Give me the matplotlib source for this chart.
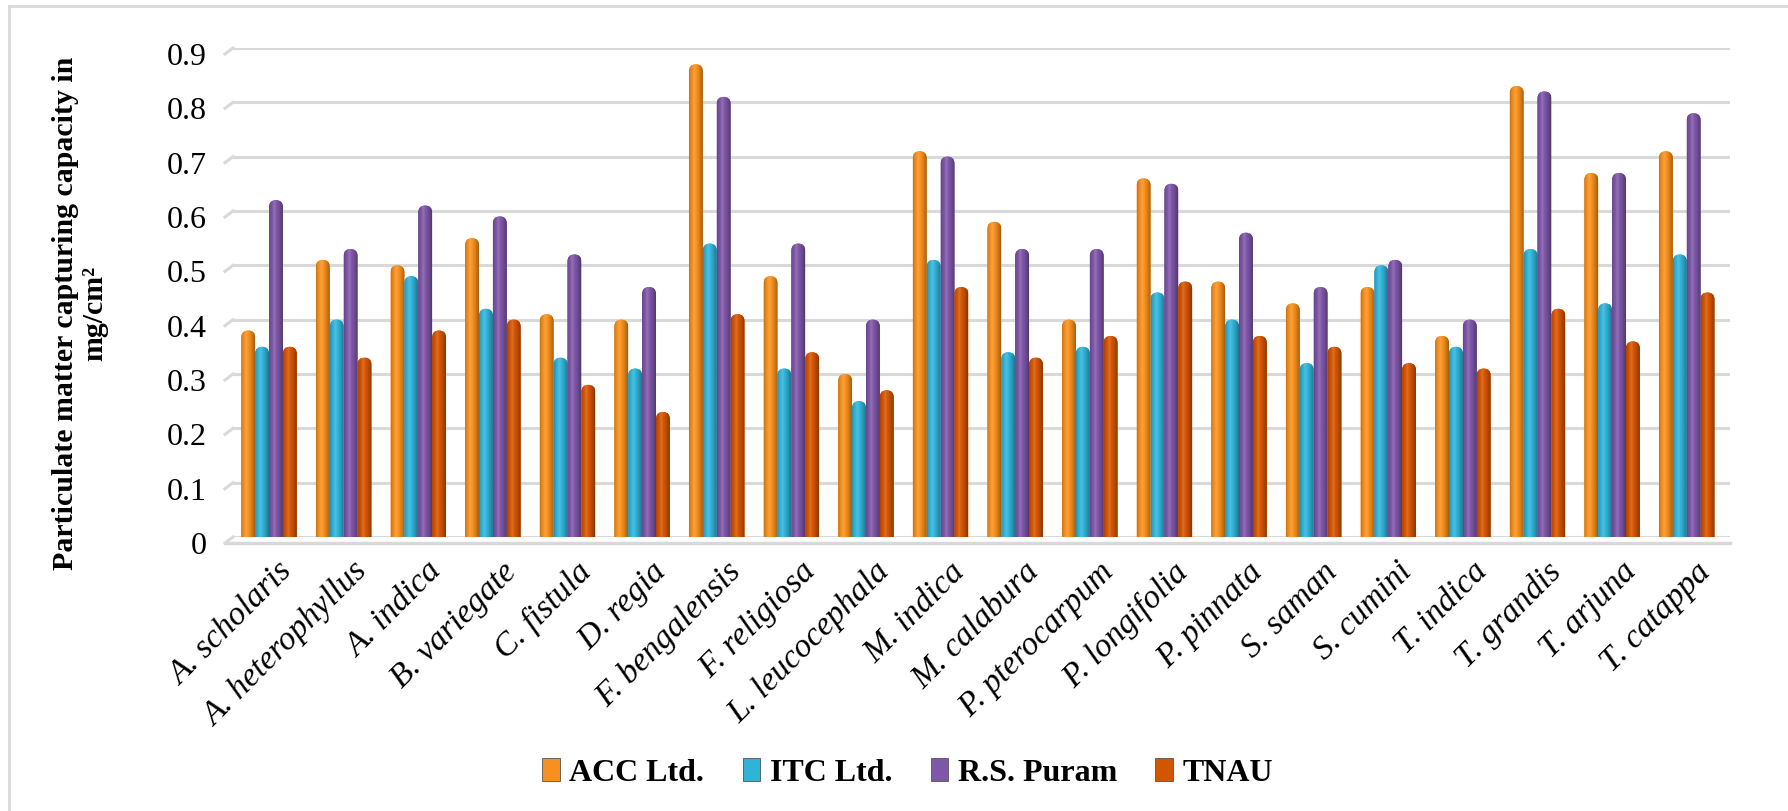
import numpy as np
import matplotlib
matplotlib.use("Agg")
import matplotlib.pyplot as plt
from matplotlib.patches import FancyBboxPatch, Patch
from matplotlib.lines import Line2D
from matplotlib.colors import to_rgb
import matplotlib.transforms as mtransforms

# ---- data -------------------------------------------------------------
species = ["A. scholaris", "A. heterophyllus", "A. indica", "B. variegate",
           "C. fistula", "D. regia", "F. bengalensis", "F. religiosa",
           "L. leucocephala", "M. indica", "M. calabura", "P. pterocarpum",
           "P. longifolia", "P. pinnata", "S. saman", "S. cumini",
           "T. indica", "T. grandis", "T. arjuna", "T. catappa"]

acc_ltd = [0.38, 0.51, 0.50, 0.55, 0.41, 0.40, 0.87, 0.48, 0.30, 0.71,
           0.58, 0.40, 0.66, 0.47, 0.43, 0.46, 0.37, 0.83, 0.67, 0.71]
itc_ltd = [0.35, 0.40, 0.48, 0.42, 0.33, 0.31, 0.54, 0.31, 0.25, 0.51,
           0.34, 0.35, 0.45, 0.40, 0.32, 0.50, 0.35, 0.53, 0.43, 0.52]
rs_puram = [0.62, 0.53, 0.61, 0.59, 0.52, 0.46, 0.81, 0.54, 0.40, 0.70,
            0.53, 0.53, 0.65, 0.56, 0.46, 0.51, 0.40, 0.82, 0.67, 0.78]
tnau = [0.35, 0.33, 0.38, 0.40, 0.28, 0.23, 0.41, 0.34, 0.27, 0.46,
        0.33, 0.37, 0.47, 0.37, 0.35, 0.32, 0.31, 0.42, 0.36, 0.45]

series_names = ["ACC Ltd.", "ITC Ltd.", "R.S. Puram", "TNAU"]
series_values = [acc_ltd, itc_ltd, rs_puram, tnau]
series_colors = ["#F7901E", "#31B3D8", "#7E57A8", "#D45500"]

y_ticks = [0, 0.1, 0.2, 0.3, 0.4, 0.5, 0.6, 0.7, 0.8, 0.9]
y_label = "Particulate matter capturing capacity in\nmg/cm²"

# ---- figure -----------------------------------------------------------
W, H, DPI = 1788, 811, 100
fig = plt.figure(figsize=(W / DPI, H / DPI), dpi=DPI)
serif = ["Liberation Serif", "DejaVu Serif"]

ax_left, ax_right = 233, 1730
ax_top, ax_bottom = 48, 537
ax = fig.add_axes([ax_left / W, 1 - ax_bottom / H,
                   (ax_right - ax_left) / W, (ax_bottom - ax_top) / H])

n = len(species)
x = np.arange(n)
bar_w = 0.186
offsets = (np.arange(4) - 1.5) * bar_w

x_lo, x_hi = -0.483, 19.58
ax.set_xlim(x_lo, x_hi)
ax.set_ylim(0, 0.9)

# pixel scales for rounded caps
px_per_x = (ax_right - ax_left) / (x_hi - x_lo)
px_per_y = (ax_bottom - ax_top) / 0.9
cap_aspect = px_per_x / px_per_y


def shade(color, t):
    """Cylindrical shading profile across a bar."""
    base = np.array(to_rgb(color))
    knots = [0.0, 0.12, 0.38, 0.72, 1.0]
    fac = [0.80, 0.93, 1.10, 0.90, 0.66]
    f = np.interp(t, knots, fac)
    out = np.empty((len(t), 3))
    for i, fi in enumerate(f):
        if fi >= 1:
            out[i] = base + (1 - base) * (fi - 1) * 1.6
        else:
            out[i] = base * fi
    return np.clip(out, 0, 1)


grad_t = np.linspace(0, 1, 40)
for k, (vals, col) in enumerate(zip(series_values, series_colors)):
    bars = ax.bar(x + offsets[k], vals, width=bar_w, color=col, zorder=3)
    grad = shade(col, grad_t)[np.newaxis, :, :]
    for b in bars:
        bx, bw, bh = b.get_x(), b.get_width(), b.get_height()
        b.set_visible(False)
        ry = (bw / 2) * cap_aspect
        body = FancyBboxPatch((bx, -ry), bw, bh + ry,
                              boxstyle=f"round,pad=0,rounding_size={bw / 2}",
                              mutation_aspect=cap_aspect,
                              facecolor=col, edgecolor="none", zorder=3)
        ax.add_patch(body)
        im = ax.imshow(grad, extent=[bx, bx + bw, -ry, bh], aspect="auto",
                       interpolation="bilinear", zorder=4)
        im.set_clip_path(body)

ax.set_xlim(x_lo, x_hi)
ax.set_ylim(0, 0.9)

# gridlines with the short perspective ticks at the left wall
grid_col = "#D9D9D9"
dx_ax = 8 / (ax_right - ax_left)
dy_data = 6 / px_per_y
for yv in y_ticks:
    ax.axhline(yv, color=grid_col, lw=2.2, zorder=1)
    ax.add_line(Line2D([0, -dx_ax], [yv, yv - dy_data], color=grid_col, lw=2.2,
                       transform=ax.get_yaxis_transform(), clip_on=False))
# floor front edge
ax.add_line(Line2D([-dx_ax, 1.0], [-dy_data, -dy_data], color=grid_col, lw=2.5,
                   transform=ax.get_yaxis_transform(), clip_on=False))

for s in ax.spines.values():
    s.set_visible(False)

ax.set_yticks(y_ticks)
ax.set_yticklabels([f"{v:g}" for v in y_ticks], fontsize=23, family=serif)
ax.tick_params(axis="y", length=0, pad=19)
for lab in ax.get_yticklabels():
    lab.set_transform(lab.get_transform() +
                      mtransforms.ScaledTranslation(0, -6 / DPI, fig.dpi_scale_trans))

ax.set_xticks(x)
ax.set_xticklabels(species, rotation=45, ha="right", va="top",
                   fontsize=24, family=serif, style="italic")
ax.tick_params(axis="x", length=0, pad=14)
for lab in ax.get_xticklabels():
    lab.set_transform(lab.get_transform() +
                      mtransforms.ScaledTranslation(30 / DPI, 0, fig.dpi_scale_trans))

fig.text(80 / W, 1 - 313 / H, y_label, rotation=90, ha="center", va="center",
         multialignment="center", fontsize=21.5, fontweight="bold", family=serif,
         linespacing=1.1)

handles = [Patch(facecolor=c, edgecolor="#555555", linewidth=0.6) for c in series_colors]
leg = fig.legend(handles, series_names, loc="center", bbox_to_anchor=(0.5076, 0.047),
                 ncol=4, frameon=False, handlelength=0.55, handleheight=0.7,
                 handletextpad=0.3, columnspacing=1.2,
                 prop={"family": serif, "weight": "bold", "size": 23})

# chart-area border (left and top edges)
fig.add_artist(Line2D([9 / W, 9 / W], [0, 1 - 6 / H], color=grid_col, lw=2,
                      transform=fig.transFigure))
fig.add_artist(Line2D([9 / W, 1], [1 - 6 / H, 1 - 6 / H], color=grid_col, lw=2,
                      transform=fig.transFigure))

fig.savefig("out.png", dpi=DPI, facecolor="white")
